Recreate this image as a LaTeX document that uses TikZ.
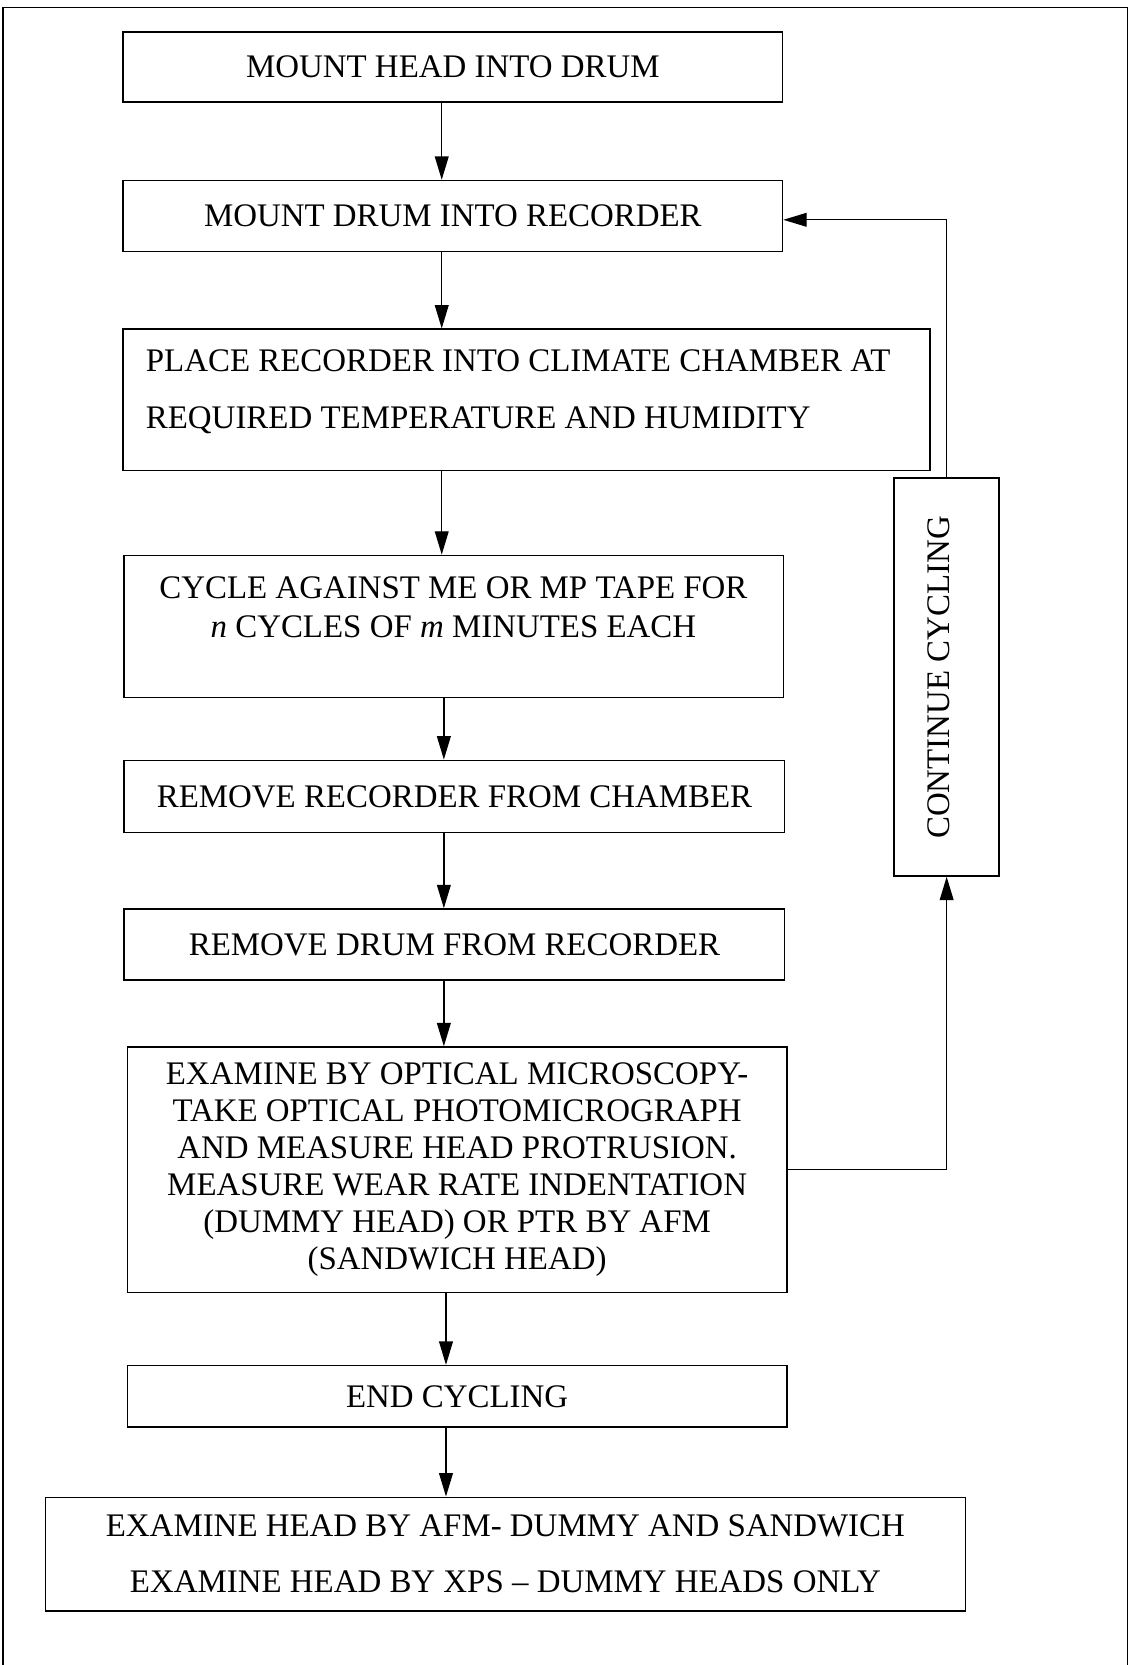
\documentclass[tikz,border=0pt]{standalone}
\usepackage{fontspec}
\setmainfont{Liberation Serif}
\usetikzlibrary{arrows.meta,calc}
\begin{document}
\begin{tikzpicture}[x=0.5pt,y=-0.5pt,
  box/.style={draw,line width=0.7pt,rectangle,inner sep=0pt},
  txt/.style={font=\fontsize{15.5}{17.5}\selectfont,align=center,inner sep=0pt},
  arr/.style={line width=0.6pt,-{Triangle[length=11pt,width=6.5pt]}}]
\useasboundingbox (0,0) rectangle (1066,1568);
\draw[line width=0.7pt] (3,1568) -- (3,7) -- (1062,7) -- (1062,1568);

\coordinate (xa) at (416,0);
\coordinate (xb) at (418,0);
\coordinate (xc) at (420,0);

\node[box,txt,minimum width=310.5pt,minimum height=33pt] (b1) at (426.5,63) {MOUNT HEAD INTO DRUM};
\node[box,txt,minimum width=310.5pt,minimum height=33.5pt] (b2) at (426.5,203.5) {MOUNT DRUM INTO RECORDER};
\node[box,minimum width=380pt,minimum height=66.5pt] (b3) at (496,376.5) {};
\node[txt,align=left,anchor=west,font=\fontsize{15.5}{27}\selectfont] (t3) at (137,369)
  {PLACE RECORDER INTO CLIMATE CHAMBER AT\\REQUIRED TEMPERATURE AND HUMIDITY};
\node[box,minimum width=310.5pt,minimum height=67pt] (b4) at (427.5,590) {};
\node[txt,font=\fontsize{15.5}{18.5}\selectfont] (t4) at (427,572)
  {CYCLE AGAINST ME OR MP TAPE FOR\\\textit{n} CYCLES OF \textit{m} MINUTES EACH};
\node[box,txt,minimum width=311pt,minimum height=34pt] (b5) at (428,750) {REMOVE RECORDER FROM CHAMBER};
\node[box,txt,minimum width=311pt,minimum height=33.5pt] (b6) at (428,889.5) {REMOVE DRUM FROM RECORDER};
\node[box,txt,minimum width=310.5pt,minimum height=115.5pt] (b7) at (430.5,1101.5)
  {EXAMINE BY OPTICAL MICROSCOPY-\\TAKE OPTICAL PHOTOMICROGRAPH\\AND MEASURE HEAD PROTRUSION.\\MEASURE WEAR RATE INDENTATION\\(DUMMY HEAD) OR PTR BY AFM\\(SANDWICH HEAD)};
\node[box,txt,minimum width=310.5pt,minimum height=29pt] (b8) at (430.5,1315) {END CYCLING};
\node[box,txt,font=\fontsize{15.5}{26.5}\selectfont,minimum width=433pt,minimum height=53.5pt] (b9) at (476,1463.5)
  {EXAMINE HEAD BY AFM- DUMMY AND SANDWICH\\EXAMINE HEAD BY XPS -- DUMMY HEADS ONLY};
\node[box,minimum width=49.5pt,minimum height=187.5pt] (cc) at (891.5,637.5) {};
\node[txt,rotate=90] (tc) at (884,638) {CONTINUE CYCLING};

\draw[arr] (b1.south -| xa) -- (b2.north -| xa);
\draw[arr] (b2.south -| xa) -- (b3.north -| xa);
\draw[arr] (b3.south -| xa) -- (b4.north -| xa);
\draw[arr] (b4.south -| xb) -- (b5.north -| xb);
\draw[arr] (b5.south -| xb) -- (b6.north -| xb);
\draw[arr] (b6.south -| xb) -- (b7.north -| xb);
\draw[arr] (b7.south -| xc) -- (b8.north -| xc);
\draw[arr] (b8.south -| xc) -- (b9.north -| xc);

\draw[arr] (b7.east) -| (cc.south);
\draw[arr] (cc.north) |- ([yshift=-1.75pt]b2.east);
\end{tikzpicture}
\end{document}
